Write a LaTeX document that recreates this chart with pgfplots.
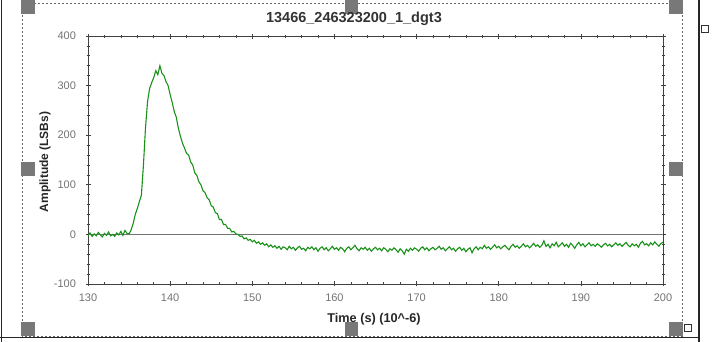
\documentclass[border=0pt]{standalone}
\usepackage{fontspec}
\setmainfont{Liberation Sans}
\usepackage{pgfplots}
\pgfplotsset{compat=1.18}
\definecolor{sig}{RGB}{25,145,25}
\definecolor{hnd}{RGB}{120,120,120}
\begin{document}
\begin{tikzpicture}
\useasboundingbox (0pt,0pt) rectangle (712pt,342pt);
% window frame lines
\draw[black!85, line width=1.8pt] (1.5pt,0pt) -- (1.5pt,342pt);
\draw[black!85, line width=1.8pt] (699pt,0pt) -- (699pt,342pt);
\draw[black!85, line width=1.8pt] (0pt,4.5pt) -- (699pt,4.5pt);
% dashed selection box
\draw[black!60, dash pattern=on 2pt off 2pt, line width=0.8pt] (22pt,339pt) rectangle (682pt,6pt);
% handles
\foreach \hx in {21,344.5,669}{
  \fill[hnd] (\hx pt,342pt) rectangle ++(13.5pt,-14pt);
  \fill[hnd] (\hx pt,6pt) rectangle ++(13.5pt,13.5pt);
}
\fill[hnd] (21pt,180pt) rectangle ++(13.5pt,-14pt);
\fill[hnd] (669pt,180pt) rectangle ++(13.5pt,-14pt);
% small glyphs at right
\draw[black!80, line width=0.8pt] (701pt,310pt) rectangle ++(7pt,7pt);
\draw[black!80, line width=0.8pt] (684pt,11pt) rectangle ++(7pt,7pt);
% title and labels
\node[font=\bfseries\fontsize{14.5}{15}\selectfont, text=black!80] at (354pt,323pt) {13466\_246323200\_1\_dgt3};
\node[font=\bfseries\fontsize{12.7}{13}\selectfont, text=black!85] at (374pt,23pt) {Time (s) (10\^{}-6)};
\node[font=\bfseries\fontsize{12}{13}\selectfont, text=black!85, rotate=90] at (45pt,180pt) {Amplitude (LSBs)};
\begin{axis}[
  at={(88pt,58pt)}, anchor=south west, scale only axis,
  width=575pt, height=248pt,
  xmin=130, xmax=200, ymin=-100, ymax=400,
  xtick distance=10, ytick distance=100,
  minor x tick num=4, minor y tick num=4,
  tick align=center, major tick length=5pt, minor tick length=3pt,
  axis line style={black!75, line width=0.9pt},
  every tick/.style={black!75, line width=0.7pt},
  /pgf/number format/assume math mode=true,
  ticklabel style={font=\fontsize{11}{12}\selectfont, text=black!55},
  yticklabel style={xshift=-6pt},
  xticklabel style={yshift=-4pt},
  clip=true,
]
\addplot[black!55, line width=1pt, forget plot] coordinates {(130,0) (200,0)};
\addplot[sig, line width=1.1pt] coordinates {
(130,-2) (130.25,3) (130.5,-4) (130.75,1) (131,-3) (131.25,4) (131.5,-1) (131.75,-5)
(132,2) (132.25,-2) (132.5,5) (132.75,-3) (133,0) (133.25,-4) (133.5,3) (133.75,-1)
(134,6) (134.25,-2) (134.5,8) (134.75,2) (135,1)
(135.25,9) (135.5,22) (135.75,40) (136,52) (136.25,66) (136.5,79) (136.75,140)
(137,215) (137.25,268) (137.5,294) (137.75,306) (138,316) (138.25,330) (138.5,322)
(138.75,340) (139,325) (139.25,320) (139.5,308) (139.75,300) (140,282) (140.25,266)
(140.5,248) (140.75,236) (141,214) (141.25,198) (141.5,184) (141.75,174) (142,163)
(142.25,160) (142.5,146) (142.75,140) (143,124) (143.25,119) (143.5,106) (143.75,100)
(144,88) (144.25,84) (144.5,74) (144.75,70) (145,58) (145.25,55) (145.5,44)
(145.75,42) (146,30) (146.25,30) (146.5,20) (146.75,20) (147,12) (147.25,12)
(147.5,5) (147.75,6) (148,1)
(148.25,0) (148.5,-4) (148.75,-3) (149,-9) (149.25,-7) (149.5,-12) (149.75,-10)
(150,-15) (150.25,-12) (150.5,-18) (150.75,-15) (151,-20) (151.25,-17) (151.5,-22)
(151.75,-19) (152,-25) (152.25,-21) (152.5,-26) (152.75,-23) (153,-28) (153.25,-24)
(153.5,-30) (153.75,-25) (154,-27) (154.25,-31) (154.5,-24) (154.75,-29) (155,-26)
(155.25,-32) (155.5,-27) (155.75,-24) (156,-30) (156.25,-28) (156.5,-33) (156.75,-26)
(157,-29) (157.25,-25) (157.5,-31) (157.75,-27) (158,-34) (158.25,-28) (158.5,-25)
(158.75,-31) (159,-27) (159.25,-33) (159.5,-29) (159.75,-24) (160,-30) (160.25,-27)
(160.5,-32) (160.75,-26) (161,-29) (161.25,-35) (161.5,-28) (161.75,-25) (162,-31)
(162.25,-27) (162.5,-22) (162.75,-29) (163,-33) (163.25,-27) (163.5,-30) (163.75,-26)
(164,-32) (164.25,-28) (164.5,-34) (164.75,-29) (165,-26) (165.25,-31) (165.5,-28)
(165.75,-33) (166,-27) (166.25,-30) (166.5,-35) (166.75,-29) (167,-32) (167.25,-27)
(167.5,-31) (167.75,-36) (168,-29) (168.25,-33) (168.5,-40) (168.75,-30) (169,-34)
(169.25,-28) (169.5,-32) (169.75,-27) (170,-30) (170.25,-34) (170.5,-28) (170.75,-25)
(171,-31) (171.25,-27) (171.5,-33) (171.75,-29) (172,-26) (172.25,-31) (172.5,-28)
(172.75,-24) (173,-30) (173.25,-27) (173.5,-33) (173.75,-29) (174,-25) (174.25,-31)
(174.5,-28) (174.75,-34) (175,-29) (175.25,-26) (175.5,-32) (175.75,-28) (176,-35)
(176.25,-30) (176.5,-27) (176.75,-37) (177,-29) (177.25,-25) (177.5,-31) (177.75,-26)
(178,-29) (178.25,-22) (178.5,-28) (178.75,-25) (179,-30) (179.25,-26) (179.5,-21)
(179.75,-27) (180,-24) (180.25,-29) (180.5,-25) (180.75,-22) (181,-27) (181.25,-31)
(181.5,-24) (181.75,-20) (182,-26) (182.25,-23) (182.5,-28) (182.75,-24) (183,-19)
(183.25,-25) (183.5,-22) (183.75,-27) (184,-23) (184.25,-18) (184.5,-24) (184.75,-21)
(185,-26) (185.25,-22) (185.5,-13) (185.75,-24) (186,-20) (186.25,-27) (186.5,-19)
(186.75,-23) (187,-16) (187.25,-25) (187.5,-21) (187.75,-17) (188,-24) (188.25,-20)
(188.5,-26) (188.75,-18) (189,-22) (189.25,-28) (189.5,-21) (189.75,-16) (190,-23)
(190.25,-19) (190.5,-25) (190.75,-21) (191,-17) (191.25,-23) (191.5,-20) (191.75,-24)
(192,-19) (192.25,-22) (192.5,-26) (192.75,-21) (193,-18) (193.25,-23) (193.5,-20)
(193.75,-25) (194,-21) (194.25,-17) (194.5,-22) (194.75,-19) (195,-24) (195.25,-20)
(195.5,-16) (195.75,-22) (196,-25) (196.25,-19) (196.5,-23) (196.75,-20) (197,-26)
(197.25,-18) (197.5,-14) (197.75,-21) (198,-19) (198.25,-23) (198.5,-17) (198.75,-21)
(199,-15) (199.25,-20) (199.5,-24) (199.75,-18) (200,-16)
};
\end{axis}
\end{tikzpicture}
\end{document}
